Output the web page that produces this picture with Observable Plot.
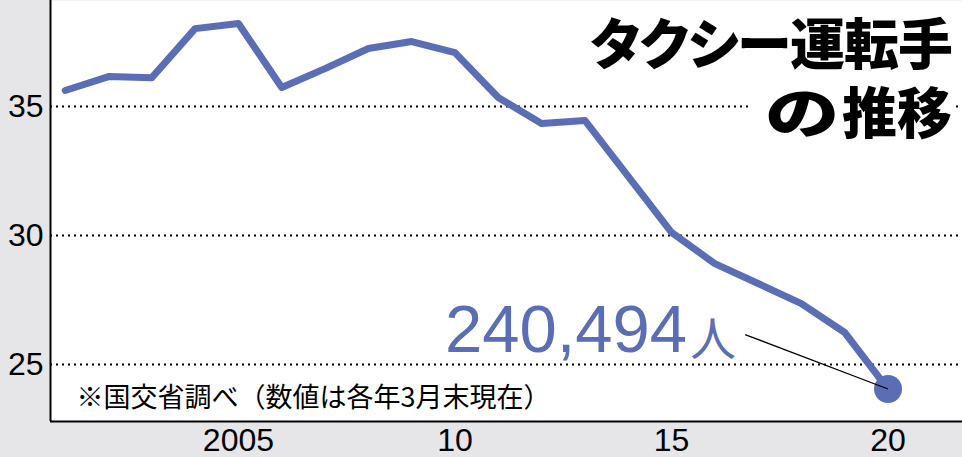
<!DOCTYPE html>
<html><head><meta charset="utf-8">
<script src="https://cdn.jsdelivr.net/npm/d3@7"></script>
<script src="https://cdn.jsdelivr.net/npm/@observablehq/plot@0.6"></script>
<style>
html,body{margin:0;padding:0;background:#e6e6e8;}
#wrap{position:relative;width:962px;height:457px;overflow:hidden;}
.tl{position:absolute;right:10px;text-align:right;font-family:"Noto Sans CJK JP",sans-serif;font-weight:900;font-size:55px;line-height:56px;height:56px;color:#000;font-feature-settings:"palt";white-space:nowrap;}
#t1{top:12px;letter-spacing:-1px;}
#t2{top:81px;background:#fff;padding-left:34px;}
#t2 .no{display:inline-block;transform:scaleX(1.35);transform-origin:right center;margin-right:4px;}
</style></head>
<body><div id="wrap"><div class="tl" id="t1">タクシー運転手</div><div class="tl" id="t2"><span class="no">の</span>推移</div></div>
<script>
// 年 (X) と タクシー運転手数（万人）
const years = [2001,2002,2003,2004,2005,2006,2007,2008,2009,2010,2011,2012,2013,2014,2015,2016,2017,2018,2019,2020];
const drivers = [35.62,36.16,36.12,38.02,38.22,35.74,36.47,37.25,37.52,37.09,35.35,34.34,34.46,32.29,30.12,28.91,28.14,27.36,26.24,24.0494];
const xTicks = [2005,2010,2015,2020];
const xTickLabels = ["2005","10","15","20"];
const yTicks = [25,30,35];
const lastLabelNumber = "240,494";
const lastLabelUnit = "人";
const sourceNote = "※国交省調べ（数値は各年3月末現在）";
// leader line start point (label anchor) in data units
const labelAnchorYear = [2016.7];
const labelAnchorValue = [26.16];

const blue = "#5b6db4";
const data = years.map((y, i) => ({year: y, value: drivers[i]}));
const last = data[data.length - 1];
const anno = labelAnchorYear.map((x, i) => ({x, y: labelAnchorValue[i], x2: last.year, y2: last.value}));

const xMin = 2000.66, xMax = 2021.72, yMin = 22.79, yMax = 39.11;

const chart = Plot.plot({
  width: 962, height: 457,
  marginLeft: 50, marginRight: 0, marginTop: 0, marginBottom: 36,
  style: {background: "#e6e6e8", fontFamily: "'Liberation Sans', Arial, sans-serif", color: "#000"},
  x: {domain: [xMin, xMax]},
  y: {domain: [yMin, yMax]},
  marks: [
    Plot.frame({fill: "#fff", stroke: null}),
    Plot.ruleY(yTicks, {stroke: "#000", strokeWidth: 2, strokeDasharray: "2,4"}),
    Plot.line(data, {x: "year", y: "value", stroke: blue, strokeWidth: 7}),
    Plot.dot([last], {x: "year", y: "value", r: 14, fill: blue}),
    Plot.link(anno, {x1: "x", y1: "y", x2: "x2", y2: "y2", stroke: "#000", strokeWidth: 1.2}),
    Plot.text(anno, {x: "x", y: "y", text: () => lastLabelNumber, textAnchor: "end", lineAnchor: "bottom", dx: -58, dy: 17, fontSize: 67, fill: blue, fontFamily: "'Liberation Sans', Arial, sans-serif"}),
    Plot.text(anno, {x: "x", y: "y", text: () => lastLabelUnit, textAnchor: "end", lineAnchor: "bottom", dx: -9, dy: 20, fontSize: 46, fill: blue, fontFamily: "'Noto Sans CJK JP', sans-serif"}),
    Plot.text([sourceNote], {frameAnchor: "bottom-left", text: d => d, textAnchor: "start", lineAnchor: "bottom", dx: 26, dy: -15, fontSize: 27, fill: "#000", fontFamily: "'Noto Sans CJK JP', sans-serif"}),
    Plot.ruleX([xMin], {stroke: "#000", strokeWidth: 2}),
    Plot.ruleY([yMin], {stroke: "#000", strokeWidth: 2}),
    Plot.axisX({ticks: xTicks, tickFormat: d => xTickLabels[xTicks.indexOf(d)], tickSize: 0, tickPadding: 7, fontSize: 32, label: null}),
    Plot.axisY({ticks: yTicks, tickSize: 0, tickPadding: 7, fontSize: 32, label: null})
  ]
});
document.getElementById("wrap").insertBefore(chart, document.getElementById("t1"));
</script>
</body></html>
